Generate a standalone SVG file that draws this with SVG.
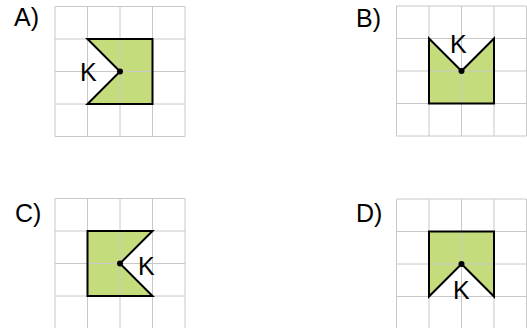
<svg xmlns="http://www.w3.org/2000/svg" width="527" height="328" viewBox="0 0 527 328">
<style>
.grid{stroke:#c8c8c8;stroke-width:1;fill:none}
.fill{fill:#c5dc7d;stroke:none}
.outline{fill:none;stroke:#000;stroke-width:2;stroke-linejoin:miter}
.lbl{font-family:"Liberation Sans",Arial,sans-serif;font-size:25px;fill:#000}
</style>
<defs>
<path id="g" class="grid" d="M0,0H130M0,32.5H130M0,65H130M0,97.5H130M0,130H130M0,0V130M32.5,0V130M65,0V130M97.5,0V130M130,0V130"/>
</defs>
<rect width="527" height="328" fill="#fff"/>
<g id="panelA">
<text class="lbl" x="14" y="26">A)</text>
<polygon class="fill" points="87.5,39 152.5,39 152.5,104 87.5,104 120,71.5"/>
<use href="#g" x="55" y="6.5"/>
<polygon class="outline" points="87.5,39 152.5,39 152.5,104 87.5,104 120,71.5"/>
<circle cx="120" cy="71.5" r="3" fill="#000"/>
<text class="lbl" x="80" y="81">K</text>
</g>
<g id="panelB">
<text class="lbl" x="356" y="27">B)</text>
<polygon class="fill" points="429,38.5 461.5,71 494,38.5 494,103.5 429,103.5"/>
<use href="#g" x="396.5" y="6"/>
<polygon class="outline" points="429,38.5 461.5,71 494,38.5 494,103.5 429,103.5"/>
<circle cx="461.5" cy="71" r="3" fill="#000"/>
<text class="lbl" x="450" y="53">K</text>
</g>
<g id="panelC">
<text class="lbl" x="15" y="221.5">C)</text>
<polygon class="fill" points="87.5,231 152.5,231 120,263.5 152.5,296 87.5,296"/>
<use href="#g" x="55" y="198.5"/>
<polygon class="outline" points="87.5,231 152.5,231 120,263.5 152.5,296 87.5,296"/>
<circle cx="120" cy="263.5" r="3" fill="#000"/>
<text class="lbl" x="138" y="274.5">K</text>
</g>
<g id="panelD">
<text class="lbl" x="356" y="222">D)</text>
<polygon class="fill" points="429,231.5 494,231.5 494,296.5 461.5,264 429,296.5"/>
<use href="#g" x="396.5" y="199"/>
<polygon class="outline" points="429,231.5 494,231.5 494,296.5 461.5,264 429,296.5"/>
<circle cx="461.5" cy="264" r="3" fill="#000"/>
<text class="lbl" x="453" y="298.5">K</text>
</g>
<g id="connectors"></g>
</svg>
